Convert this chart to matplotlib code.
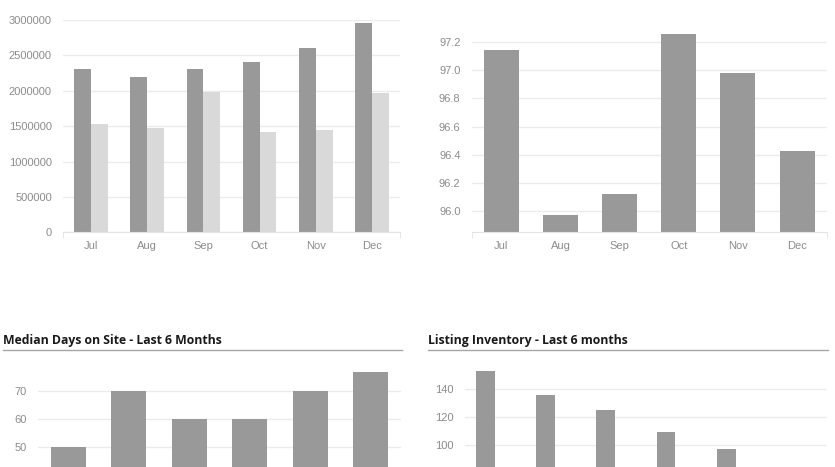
import numpy as np
import matplotlib
matplotlib.use("Agg")
import matplotlib.pyplot as plt

W, H = 835, 467

MONTHS = ["Jul", "Aug", "Sep", "Oct", "Nov", "Dec"]

# top left: two series per month
VALUES_A = [2310000, 2200000, 2310000, 2400000, 2610000, 2960000]
VALUES_B = [1530000, 1480000, 1980000, 1420000, 1450000, 1965000]

# top right
PCT_VALUES = [97.14, 95.97, 96.12, 97.26, 96.98, 96.43]

# bottom left
DAYS_TITLE = "Median Days on Site - Last 6 Months"
DAYS_VALUES = [50, 70, 60, 60, 70, 77]

# bottom right (Dec bar sits below the visible area)
INV_TITLE = "Listing Inventory - Last 6 months"
INV_VALUES = [153, 136, 125, 109, 97, 80]

DARK = "#999999"
LIGHT = "#d9d9d9"
GRID = "#ebebeb"
TICK = "#8c8c8c"

plt.rcParams["font.family"] = ["Liberation Sans", "DejaVu Sans"]

fig = plt.figure(figsize=(W / 100, H / 100), dpi=100)
fig.patch.set_facecolor("white")


def px_axes(x0, x1, y_top, y_bot):
    # pixel box (top-left origin) -> figure fraction
    return fig.add_axes([x0 / W, (H - y_bot) / H, (x1 - x0) / W, (y_bot - y_top) / H])


def style(ax, yticks, fmt, xlabels=True):
    for s in ax.spines.values():
        s.set_visible(False)
    ax.spines["bottom"].set_visible(True)
    ax.spines["bottom"].set_color("#e3e3e3")
    ax.set_yticks(yticks)
    ax.set_yticklabels([fmt(v) for v in yticks])
    ax.tick_params(axis="y", length=0, pad=8, labelsize=8, labelcolor=TICK)
    ax.tick_params(axis="x", length=0, pad=6, labelsize=8, labelcolor=TICK)
    ax.yaxis.grid(True, color=GRID, linewidth=1)
    ax.set_axisbelow(True)
    ax.set_xlim(-0.5, len(MONTHS) - 0.5)
    ax.set_xticks(np.arange(len(MONTHS)))
    if xlabels:
        ax.set_xticklabels(MONTHS)
        ax.set_xticks([-0.5, len(MONTHS) - 0.5], minor=True)
        ax.tick_params(axis="x", which="minor", length=4, color="#e3e3e3")
    else:
        ax.set_xticklabels([])


x = np.arange(len(MONTHS))

# top left
ax1 = px_axes(63, 400, 20, 232.3)
ax1.bar(x - 0.15, VALUES_A, width=0.3, color=DARK)
ax1.bar(x + 0.15, VALUES_B, width=0.3, color=LIGHT)
ax1.set_ylim(0, 3000000)
style(ax1, np.arange(0, 3000001, 500000), lambda v: f"{int(v)}")

# top right
ax2 = px_axes(471.7, 826.7, 30.7, 232.3)
ax2.bar(x, PCT_VALUES, width=0.59, color=DARK)
ax2.set_ylim(95.85, 97.28)
style(ax2, np.arange(96.0, 97.21, 0.2), lambda v: f"{v:.1f}")

# bottom left (lower part is outside the visible page area)
ax3 = px_axes(38, 401, 365, 585.7)
ax3.bar(x, DAYS_VALUES, width=0.58, color=DARK)
ax3.set_ylim(0, (585.7 - 365) / 27.8 * 10)
style(ax3, [50, 60, 70], lambda v: f"{int(v)}", xlabels=False)

# bottom right
ax4 = px_axes(465, 826.7, 365, 583.6)
ax4.bar(x - 0.165, INV_VALUES, width=0.31, color=DARK)
ax4.set_ylim(0, (583.6 - 365) / 27.8 * 20)
style(ax4, [100, 120, 140], lambda v: f"{int(v)}", xlabels=False)

# section titles with underline
for tx, x0, x1, title in [(3, 3, 402, DAYS_TITLE), (428, 428, 828, INV_TITLE)]:
    fig.text(tx / W, (H - 344) / H, title, fontsize=8.8, fontweight="bold",
             family=["Open Sans", "DejaVu Sans"], color="#1a1a1a", va="baseline")
    fig.add_artist(plt.Line2D([x0 / W, x1 / W], [(H - 350) / H] * 2,
                              color="#a6a6a6", linewidth=1))

fig.savefig("out.png", dpi=100, facecolor="white")
